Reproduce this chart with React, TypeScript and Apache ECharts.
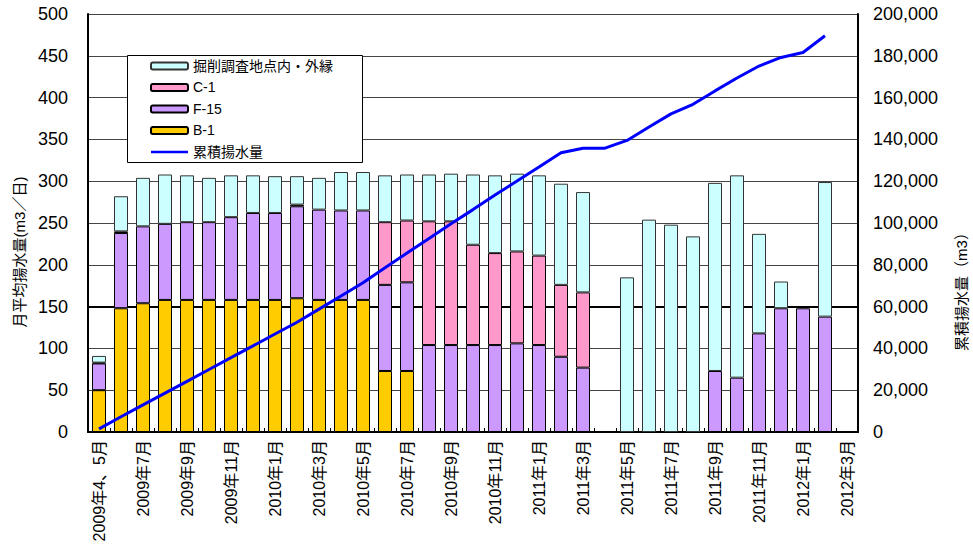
import React, { useEffect, useRef } from "react";
import * as echarts from "echarts";

const categories = [
  "2009年4、5月", "2009年6月", "2009年7月", "2009年8月", "2009年9月", "2009年10月",
  "2009年11月", "2009年12月", "2010年1月", "2010年2月", "2010年3月", "2010年4月",
  "2010年5月", "2010年6月", "2010年7月", "2010年8月", "2010年9月", "2010年10月",
  "2010年11月", "2010年12月", "2011年1月", "2011年2月", "2011年3月", "2011年4月",
  "2011年5月", "2011年6月", "2011年7月", "2011年8月", "2011年9月", "2011年10月",
  "2011年11月", "2011年12月", "2012年1月", "2012年2月", "2012年3月",
];

const b1 = [50, 148, 154, 158, 158, 158, 158, 158, 158, 160, 158, 158, 158, 73, 73, null, null, null, null, null, null, null, null, null, null, null, null, null, null, null, null, null, null, null, null];
const f15 = [32, 90, 92, 91, 93, 93, 99, 104, 104, 110, 108, 107, 107, 103, 106, 104, 104, 104, 104, 106, 104, 90, 77, null, null, null, null, null, 73, 65, 118, 148, 148, 138, null];
const c1 = [1, 2, null, null, null, null, null, null, null, 2, null, null, null, 75, 74, 148, 148, 120, 110, 110, 107, 86, 90, null, null, null, null, null, null, null, null, null, null, null, null];
const excavation = [8, 42, 58, 59, 56, 53, 50, 45, 44, 34, 38, 46, 46, 56, 55, 56, 57, 84, 93, 93, 96, 121, 120, null, 185, 254, 248, 234, 225, 242, 119, 32, null, 161, null];
const cumulative = [1500, 7300, 13000, 18600, 24200, 29900, 35600, 41200, 46900, 52500, 58800, 65100, 71400, 78600, 85600, 92600, 99600, 106400, 113400, 120100, 126800, 133600, 135800, 135800, 139500, 145900, 152200, 156800, 163200, 169400, 175100, 179200, 181600, 189600, null];
const referenceLevel = 150;

const FONT = "'Liberation Sans', 'Noto Sans CJK JP', sans-serif";
const CLEAR = "rgba(0,0,0,0)";

export default function App() {
  const ref = useRef<HTMLDivElement>(null);
  useEffect(() => {
    document.body.style.margin = "0";
    if (!ref.current) return;
    const chart = echarts.init(ref.current, undefined, { renderer: "svg" });
    const barBase = {
      type: "bar",
      stack: "total",
      barWidth: 14,
      xAxisIndex: 0,
      yAxisIndex: 0,
      z: 2,
    };
    chart.setOption({
      animation: false,
      backgroundColor: "#ffffff",
      textStyle: { fontFamily: FONT },
      grid: { left: 88, right: 115, top: 14, bottom: 122, containLabel: false },
      legend: {
        orient: "vertical",
        left: 150,
        top: 59,
        itemWidth: 37,
        itemHeight: 7,
        itemGap: 7.5,
        padding: 0,
        z: 10,
        data: [
          "掘削調査地点内・外縁",
          "C-1",
          "F-15",
          "B-1",
          { name: "累積揚水量", icon: "path://M0,0 L37,0 L37,2.6 L0,2.6 Z" },
        ],
        textStyle: { fontSize: 14, color: "#000", fontFamily: FONT },
      },
      graphic: [
        {
          type: "rect",
          z: 5,
          shape: { x: 127.5, y: 55.5, width: 235, height: 107 },
          style: { fill: "#fff", stroke: "#000", lineWidth: 1 },
        },
        {
          type: "text",
          z: 5,
          x: 19,
          y: 252,
          rotation: Math.PI / 2,
          style: {
            text: "月平均揚水量(m3／日)",
            font: `15px ${FONT}`,
            fill: "#000",
            textAlign: "center",
            textVerticalAlign: "middle",
          },
        },
        {
          type: "text",
          z: 5,
          x: 961,
          y: 288,
          rotation: Math.PI / 2,
          style: {
            text: "累積揚水量（m3）",
            font: `15px ${FONT}`,
            fill: "#000",
            textAlign: "center",
            textVerticalAlign: "middle",
          },
        },
      ],
      xAxis: {
        type: "category",
        data: categories,
        axisLine: { lineStyle: { color: "#000", width: 2 } },
        axisTick: { show: true, inside: true, length: 4, interval: 0, lineStyle: { color: "#000" } },
        axisLabel: {
          interval: 1,
          rotate: 90,
          margin: 8,
          fontSize: 16,
          color: "#000",
          fontFamily: FONT,
        },
      },
      yAxis: [
        {
          type: "value",
          min: 0,
          max: 500,
          interval: 50,
          axisLine: { show: true, lineStyle: { color: "#000", width: 2 } },
          axisTick: { show: false },
          axisLabel: { fontSize: 18, color: "#000", margin: 20, fontFamily: FONT },
          splitLine: { show: true, lineStyle: { color: "#444", width: 1 } },
        },
        {
          type: "value",
          min: 0,
          max: 200000,
          interval: 20000,
          axisLine: { show: true, lineStyle: { color: "#000", width: 2 } },
          axisTick: { show: false },
          axisLabel: {
            fontSize: 18,
            color: "#000",
            margin: 15,
            fontFamily: FONT,
            formatter: (v: number) => v.toLocaleString("en-US"),
          },
          splitLine: { show: false },
        },
        {
          type: "value",
          position: "left",
          min: 0,
          max: 500,
          interval: referenceLevel,
          axisLine: { show: false },
          axisTick: { show: false },
          axisLabel: { show: false },
          splitLine: {
            show: true,
            lineStyle: { color: [CLEAR, "#000", CLEAR, CLEAR, CLEAR], width: 2 },
          },
        },
      ],
      series: [
        {
          ...barBase,
          name: "B-1",
          data: b1,
          itemStyle: { color: "#FFCC00", borderColor: "#000", borderWidth: 1 },
        },
        {
          ...barBase,
          name: "F-15",
          data: f15,
          itemStyle: { color: "#CC99FF", borderColor: "#000", borderWidth: 1 },
        },
        {
          ...barBase,
          name: "C-1",
          data: c1,
          itemStyle: { color: "#FF99CC", borderColor: "#000", borderWidth: 1 },
        },
        {
          ...barBase,
          name: "掘削調査地点内・外縁",
          data: excavation,
          itemStyle: { color: "#CCFFFF", borderColor: "#333", borderWidth: 1 },
        },
        {
          type: "line",
          name: "累積揚水量",
          yAxisIndex: 1,
          data: cumulative,
          showSymbol: false,
          symbol: "none",
          z: 6,
          lineStyle: { color: "#0000FF", width: 3 },
          itemStyle: { color: "#0000FF" },
        },
      ],
    });
    return () => chart.dispose();
  }, []);
  return <div ref={ref} style={{ width: 973, height: 554 }} />;
}
